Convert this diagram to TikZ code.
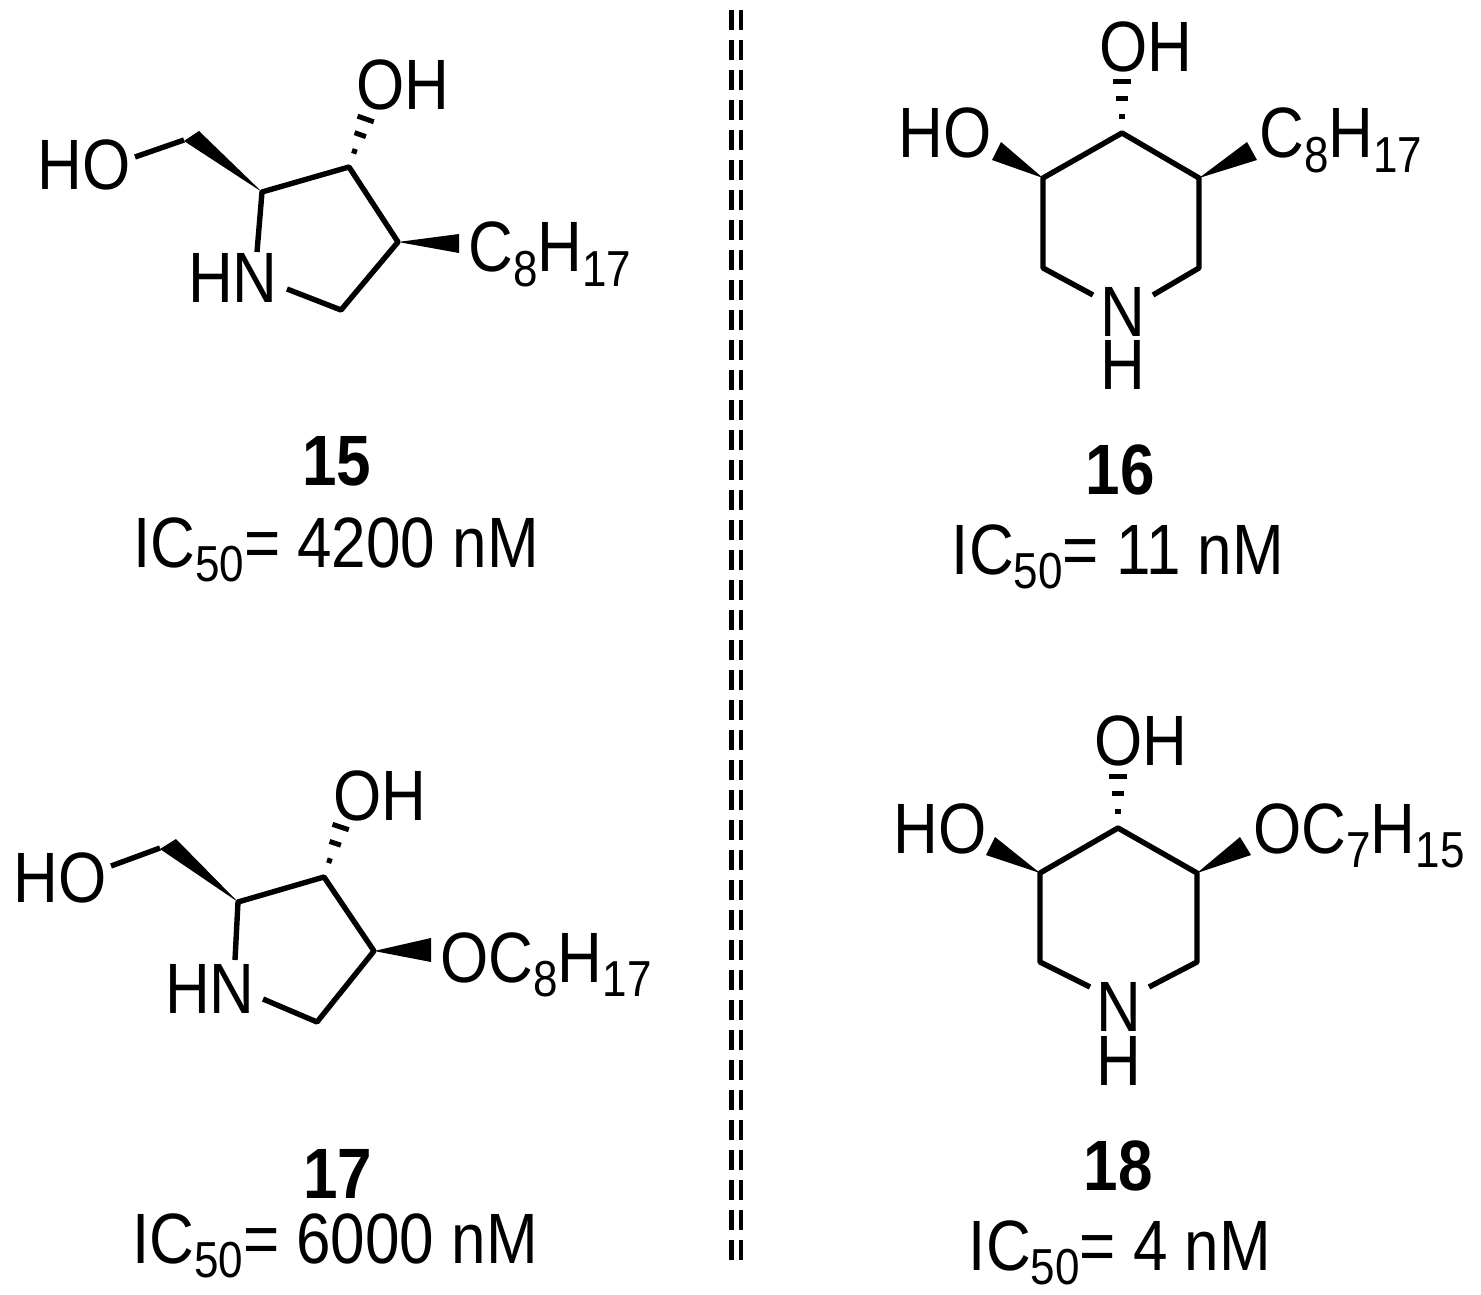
\documentclass[tikz,border=0pt]{standalone}
\usepackage{fontspec}
\usepackage{graphicx}
\setmainfont{Liberation Sans}
\usetikzlibrary{calc}
\newcommand\sbs[1]{\raisebox{-0.2em}{\fontsize{22}{24}\selectfont #1}}
\newcommand\tx[1]{\scalebox{1}[1.15]{#1}}
\tikzset{
  bond/.style={line width=2.7pt},
  hashln/.style={line width=2.5pt},
  lbl/.style={inner sep=0pt,anchor=base,font=\fontsize{31}{36}\selectfont},
  lblw/.style={inner sep=0pt,anchor=base west,font=\fontsize{31}{36}\selectfont},
  num/.style={inner sep=0pt,anchor=base,font=\fontsize{31}{36}\selectfont\bfseries},
}
\newcommand\hashes[2]{%
  \foreach \t/\w in {0.32/1.3pt,0.66/3pt,0.98/4.3pt}{%
    \coordinate (hm) at ($(#1)!\t!(#2)$);
    \draw[hashln] ($(hm)!\w!90:(#2)$) -- ($(hm)!\w!-90:(#2)$);
  }}
\begin{document}
\begin{tikzpicture}[x=0.5pt,y=-0.5pt]
\useasboundingbox (0,0) rectangle (1481,1294);
% divider
\draw[line width=2.5pt,dash pattern=on 10pt off 5pt] (731,10) -- (731,1265);
\draw[line width=1.6pt,dash pattern=on 10pt off 5pt] (741,10) -- (741,1265);

% ---------- 15 ----------
\node[lbl] (ho15) at (84,190) {\tx{HO}};
\node[lbl] (oh15) at (403,110) {\tx{OH}};
\node[lbl] (hn15) at (233,303) {\tx{HN}};
\node[lblw] (r15) at (468,272) {\tx{C\sbs{8}H\sbs{17}}};
\coordinate (a2) at (262,192); \coordinate (a3) at (349,167);
\coordinate (a4) at (398,242); \coordinate (a5) at (341,310);
\draw[bond,line join=round] (257,252) -- (a2) -- (a3) -- (a4) -- (a5) -- (287,289);
\draw[bond] (135,157) -- (184,140);
\fill (a2) -- (184,141) -- (199,131) -- cycle;
\hashes{a3}{366,118}
\fill (a4) -- (459,234) -- (459,253) -- cycle;
\node[num] (n15) at (337,485) {\tx{15}};
\node[lbl] (ic15) at (336,567) {\tx{IC\sbs{50}= 4200 nM}};

% ---------- 16 ----------
\node[lbl] (oh16) at (1146,72) {\tx{OH}};
\node[lbl] (ho16) at (945,158) {\tx{HO}};
\node[lbl] (n16) at (1123,336) {\tx{N}};
\node[lbl] (h16) at (1123,389) {\tx{H}};
\node[lblw] (r16) at (1259,158) {\tx{C\sbs{8}H\sbs{17}}};
\coordinate (b1) at (1122,133); \coordinate (bl) at (1043,178);
\coordinate (br) at (1199,178);
\draw[bond,line join=round] (1093,295) -- (1043,268) -- (bl) -- (b1) -- (br) -- (1199,268) -- (1153,295);
\hashes{b1}{1122,80}
\fill (bl) -- (992,160) -- (1001,142) -- cycle;
\fill (br) -- (1247,142) -- (1257,160) -- cycle;
\node[num] (nn16) at (1120,494) {\tx{16}};
\node[lbl] (ic16) at (1118,574) {\tx{IC\sbs{50}= 11 nM}};

% ---------- 17 ----------
\node[lbl] (ho17) at (60,902) {\tx{HO}};
\node[lbl] (oh17) at (380,820) {\tx{OH}};
\node[lbl] (hn17) at (210,1013) {\tx{HN}};
\node[lblw] (r17) at (440,982) {\tx{OC\sbs{8}H\sbs{17}}};
\coordinate (c2) at (238,902); \coordinate (c3) at (324,877);
\coordinate (c4) at (374,951); \coordinate (c5) at (317,1022);
\draw[bond,line join=round] (235,960) -- (c2) -- (c3) -- (c4) -- (c5) -- (263,999);
\draw[bond] (111,866) -- (160,848);
\fill (c2) -- (160,849) -- (176,839) -- cycle;
\hashes{c3}{341,826}
\fill (c4) -- (431,938) -- (431,962) -- cycle;
\node[num] (n17) at (338,1198) {\tx{17}};
\node[lbl] (ic17) at (335,1263) {\tx{IC\sbs{50}= 6000 nM}};

% ---------- 18 ----------
\node[lbl] (oh18) at (1141,765) {\tx{OH}};
\node[lbl] (ho18) at (940,853) {\tx{HO}};
\node[lbl] (n18) at (1119,1031) {\tx{N}};
\node[lbl] (h18) at (1119,1085) {\tx{H}};
\node[lblw] (r18) at (1253,853) {\tx{OC\sbs{7}H\sbs{15}}};
\coordinate (d1) at (1118,828); \coordinate (dl) at (1040,873);
\coordinate (dr) at (1197,873);
\draw[bond,line join=round] (1090,987) -- (1040,962) -- (dl) -- (d1) -- (dr) -- (1197,962) -- (1149,987);
\hashes{d1}{1118,775}
\fill (dl) -- (986,855) -- (995,837) -- cycle;
\fill (dr) -- (1240,837) -- (1251,855) -- cycle;
\node[num] (nn18) at (1118,1190) {\tx{18}};
\node[lbl] (ic18) at (1120,1270) {\tx{IC\sbs{50}= 4 nM}};
\end{tikzpicture}
\end{document}
